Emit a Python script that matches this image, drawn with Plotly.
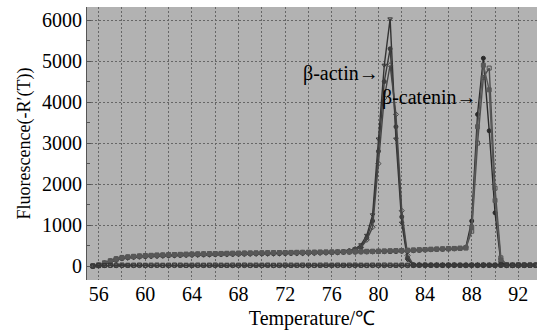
import plotly.graph_objects as go

# Temperature grid (°C), 0.5 °C steps
temperature = [55.5 + 0.5 * i for i in range(77)]

# beta-actin melting curves (-R'(T))
actin_1 = [0, 15, 60, 110, 160, 195, 215, 225, 235, 245,
           250, 255, 262, 268, 270, 275, 280, 283, 287, 290,
           292, 295, 298, 300, 302, 305, 306, 308, 310, 312,
           313, 315, 317, 318, 320, 322, 323, 325, 326, 328,
           330, 335, 340, 355, 380, 420, 520, 750, 1250, 3100,
           4900, 6030, 3100, 1050, 150, 30, 20, 22, 15, 18,
           15, 20, 14, 18, 15, 17, 20, 15, 18, 16,
           15, 18, 20, 15, 16, 18, 15]
actin_2 = [10, 25, 50, 95, 140, 180, 200, 215, 222, 230,
           236, 240, 246, 250, 255, 258, 262, 266, 270, 272,
           275, 278, 280, 283, 285, 288, 290, 292, 294, 296,
           298, 300, 302, 304, 306, 308, 310, 312, 314, 318,
           322, 326, 332, 345, 370, 410, 460, 690, 1100, 2800,
           4500, 5300, 3400, 1200, 200, 30, 25, 20, 25, 22,
           20, 25, 22, 20, 24, 21, 23, 25, 20, 22,
           24, 20, 22, 25, 21, 20, 23]
actin_3 = [5, 20, 55, 100, 150, 185, 205, 218, 228, 236,
           242, 248, 252, 258, 262, 266, 270, 274, 276, 280,
           282, 285, 288, 290, 292, 295, 297, 300, 302, 304,
           306, 308, 310, 312, 313, 315, 317, 319, 320, 322,
           325, 330, 336, 350, 375, 415, 450, 640, 950, 2500,
           4100, 4900, 3700, 1350, 260, 35, 28, 25, 22, 25,
           28, 24, 26, 22, 25, 28, 24, 26, 22, 25,
           27, 24, 22, 26, 25, 23, 24]

# beta-catenin melting curves
catenin_1 = [0, 20, 70, 120, 170, 200, 215, 228, 238, 245,
             252, 258, 262, 266, 272, 276, 280, 284, 288, 290,
             293, 296, 298, 301, 303, 305, 307, 309, 311, 313,
             314, 316, 318, 319, 321, 323, 324, 326, 327, 329,
             330, 332, 334, 336, 338, 340, 342, 344, 346, 348,
             350, 352, 355, 360, 368, 375, 383, 390, 398, 405,
             410, 415, 420, 428, 460, 1100, 3700, 5070, 3300, 1300,
             100, 25, 20, 20, 18, 18, 18]
catenin_2 = [8, 30, 80, 130, 180, 210, 225, 238, 248, 256,
             262, 268, 272, 278, 282, 286, 290, 294, 298, 300,
             303, 306, 308, 311, 313, 316, 318, 320, 322, 324,
             326, 328, 330, 331, 333, 335, 337, 338, 340, 342,
             344, 346, 348, 350, 352, 355, 358, 360, 362, 365,
             368, 372, 376, 380, 386, 392, 398, 404, 410, 416,
             420, 425, 430, 436, 440, 850, 3000, 4600, 4830, 1900,
             200, 30, 25, 28, 24, 26, 25]
catenin_3 = [3, 25, 65, 115, 165, 198, 220, 232, 242, 250,
             258, 264, 268, 272, 276, 280, 285, 288, 292, 295,
             298, 300, 303, 305, 308, 310, 312, 314, 316, 318,
             320, 322, 323, 325, 327, 328, 330, 332, 333, 335,
             337, 339, 341, 343, 345, 347, 350, 352, 355, 358,
             362, 366, 370, 376, 382, 388, 394, 400, 406, 412,
             418, 422, 426, 432, 450, 950, 3400, 4900, 4300, 1600,
             150, 28, 22, 24, 20, 22, 21]

# no-template controls
ntc_1 = [0, 10, 15, 20, 22, 25, 20, 22, 25, 20,
         22, 24, 20, 22, 25, 23, 20, 22, 24, 21,
         23, 25, 22, 20, 24, 22, 25, 21, 23, 22,
         24, 20, 22, 25, 23, 21, 24, 22, 20, 23,
         25, 22, 24, 21, 23, 25, 22, 20, 24, 22,
         25, 23, 21, 24, 22, 20, 23, 25, 22, 24,
         21, 23, 25, 22, 20, 24, 22, 25, 23, 21,
         24, 22, 20, 23, 25, 22, 24]
ntc_2 = [-10, 5, 10, 12, 8, 10, 12, 9, 11, 10,
         8, 12, 10, 9, 11, 12, 10, 8, 11, 10,
         12, 9, 10, 11, 8, 12, 10, 9, 11, 10,
         12, 8, 10, 11, 9, 12, 10, 8, 11, 10,
         9, 12, 10, 11, 8, 10, 12, 9, 11, 10,
         8, 12, 10, 11, 9, 10, 12, 8, 11, 10,
         12, 9, 10, 11, 8, 12, 10, 9, 11, 10,
         12, 8, 10, 11, 9, 12, 10]

series = [
    (actin_1, "triangle-down-open", "#333333"),
    (actin_2, "circle", "#3c3c3c"),
    (actin_3, "diamond-open", "#464646"),
    (catenin_1, "circle", "#2a2a2a"),
    (catenin_2, "square-open", "#4e4e4e"),
    (catenin_3, "square", "#585858"),
    (ntc_1, "square-open", "#303030"),
    (ntc_2, "circle-open", "#3a3a3a"),
]

x_ticks = [56, 60, 64, 68, 72, 76, 80, 84, 88, 92]
y_ticks = [0, 1000, 2000, 3000, 4000, 5000, 6000]

fig = go.Figure()
for vals, sym, col in series:
    fig.add_trace(go.Scatter(
        x=temperature, y=vals, mode="lines+markers",
        line=dict(color=col, width=1.4),
        marker=dict(symbol=sym, size=4, color=col, line=dict(color=col, width=1)),
        showlegend=False,
    ))

font_family = "Liberation Serif, Times New Roman, serif"
grid_col = "#666666"
grid_dash = "2px,2px"

fig.update_layout(
    width=537, height=335,
    margin=dict(l=87, r=0, t=7, b=55),
    paper_bgcolor="white",
    plot_bgcolor="#b2b2b2",
    font=dict(family=font_family, size=20, color="black"),
    showlegend=False,
    annotations=[
        dict(x=80.25, y=4710, xref="x", yref="y", text="β-actin→",
             showarrow=False, xanchor="right", yanchor="middle",
             font=dict(family=font_family, size=20, color="black")),
        dict(x=88.65, y=4120, xref="x", yref="y", text="β-catenin→",
             showarrow=False, xanchor="right", yanchor="middle",
             font=dict(family=font_family, size=20, color="black")),
    ],
)

fig.update_xaxes(
    range=[55, 93.6],
    tickvals=x_ticks,
    ticktext=[str(v) for v in x_ticks],
    showgrid=True, gridcolor=grid_col, griddash=grid_dash, gridwidth=1,
    minor=dict(tick0=56, dtick=2, showgrid=True, gridcolor=grid_col,
               griddash=grid_dash, gridwidth=1),
    zeroline=False, showline=False,
    ticks="", tickfont=dict(size=20),
    title=dict(text="Temperature/℃", font=dict(size=20), standoff=6),
)
fig.update_yaxes(
    range=[-340, 6320],
    tickvals=y_ticks,
    ticktext=[str(v) for v in y_ticks],
    showgrid=True, gridcolor=grid_col, griddash=grid_dash, gridwidth=1,
    minor=dict(dtick=500, ticks="inside", ticklen=3, tickcolor="#555555"),
    ticks="inside", ticklen=4, tickcolor="#555555",
    zeroline=False, showline=True, linecolor="#555555", linewidth=1,
    tickfont=dict(size=20),
    title=dict(text="Fluorescence(-R′(T))", font=dict(size=18), standoff=6),
)

fig.write_html("out.html",
               config={"displayModeBar": False},
               post_script="document.body.style.margin='0px';document.body.style.overflow='hidden';")
